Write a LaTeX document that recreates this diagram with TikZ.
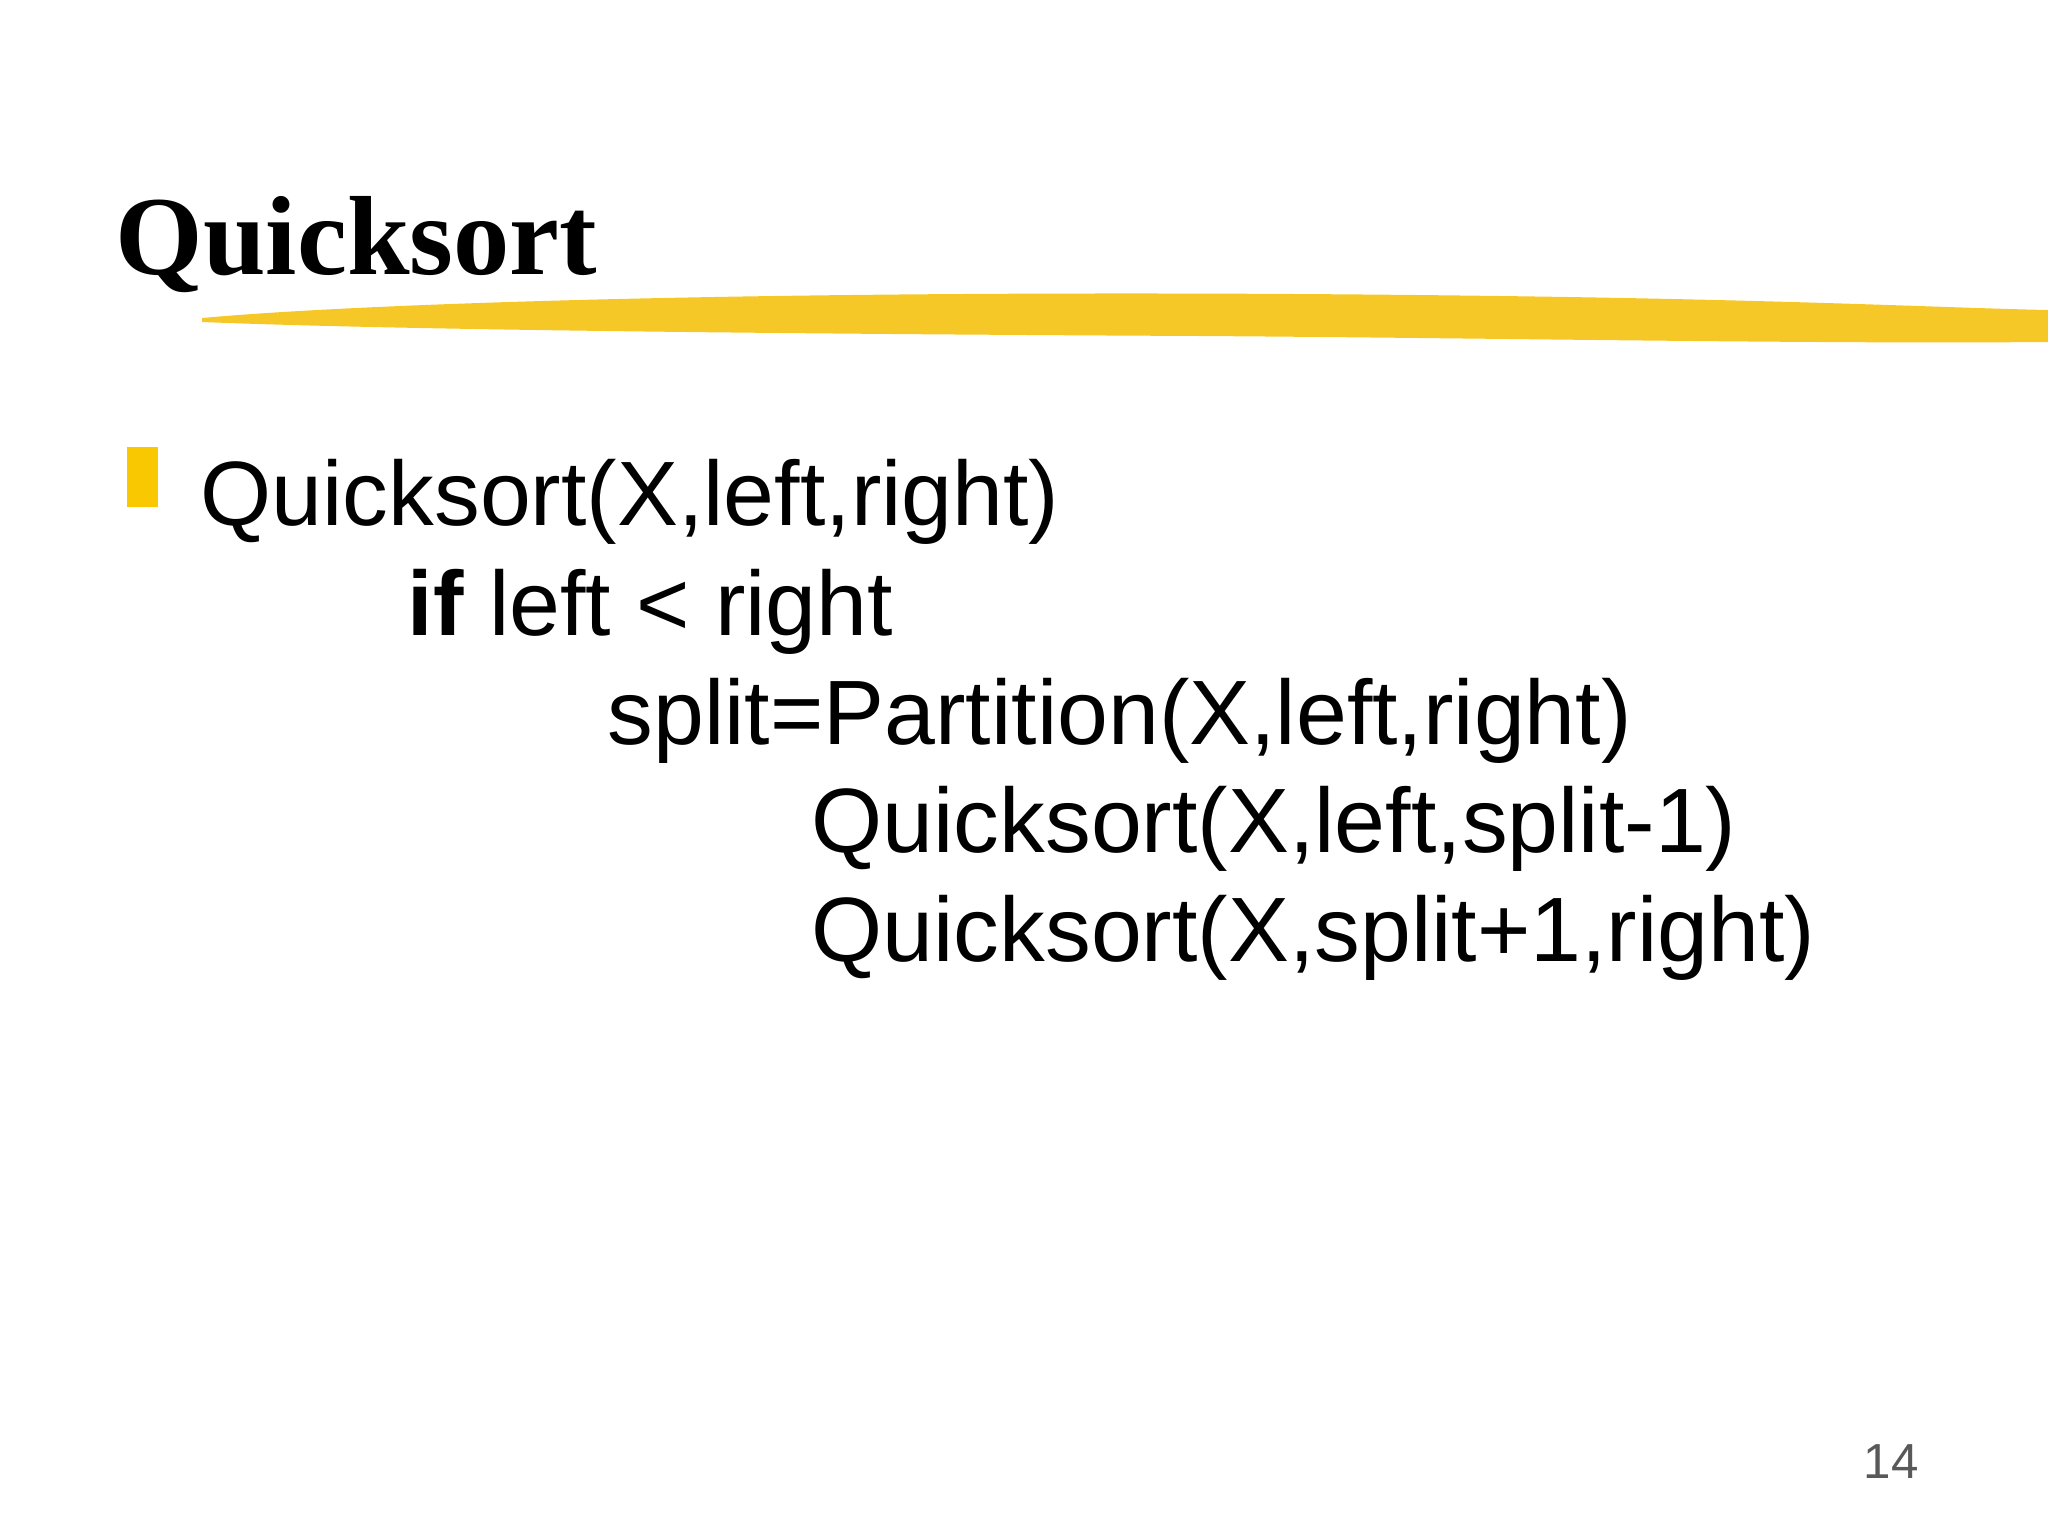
\documentclass[tikz,border=0pt]{standalone}
\usepackage{fontspec}
\setmainfont{Liberation Sans}
\newfontfamily\titlefont{Liberation Serif}
\usetikzlibrary{positioning}
\definecolor{brush}{RGB}{245,200,40}
\definecolor{bullet}{RGB}{250,200,0}
\tikzset{
  code/.style={anchor=base west, inner sep=0pt, font=\fontsize{26}{30}\selectfont},
  title/.style={anchor=base west, inner sep=0pt, font=\titlefont\bfseries\fontsize{32}{36}\selectfont}
}
\begin{document}
\begin{tikzpicture}[x=0.01cm,y=-0.01cm]
\useasboundingbox (0,0) rectangle (2048,1536);
% brush stroke under title
\fill[brush] (202,318) .. controls (400,300) and (900,288) .. (1500,296)
  .. controls (1800,300) and (1950,308) .. (2048,310) -- (2048,342)
  .. controls (1800,344) and (1500,338) .. (1200,336)
  .. controls (800,334) and (400,330) .. (202,322) -- cycle;
% title
\node[title] (t) at (115,274) {Quicksort};
% bullet
\fill[bullet] (127,447) rectangle (158,507);
% code lines
\node[code] (l1) at (200,525) {Quicksort(X,left,right)};
\node[code] (l2) at (407,635) {\textbf{if} left < right};
\node[code] (l3) at (607,744) {split=Partition(X,left,right)};
\node[code] (l4) at (811,852) {Quicksort(X,left,split-1)};
\node[code] (l5) at (811,961) {Quicksort(X,split+1,right)};
% page number
\node[anchor=base, text=black!65, font=\fontsize{14}{16}\selectfont] (pg) at (1891,1478) {14};
\end{tikzpicture}
\end{document}
